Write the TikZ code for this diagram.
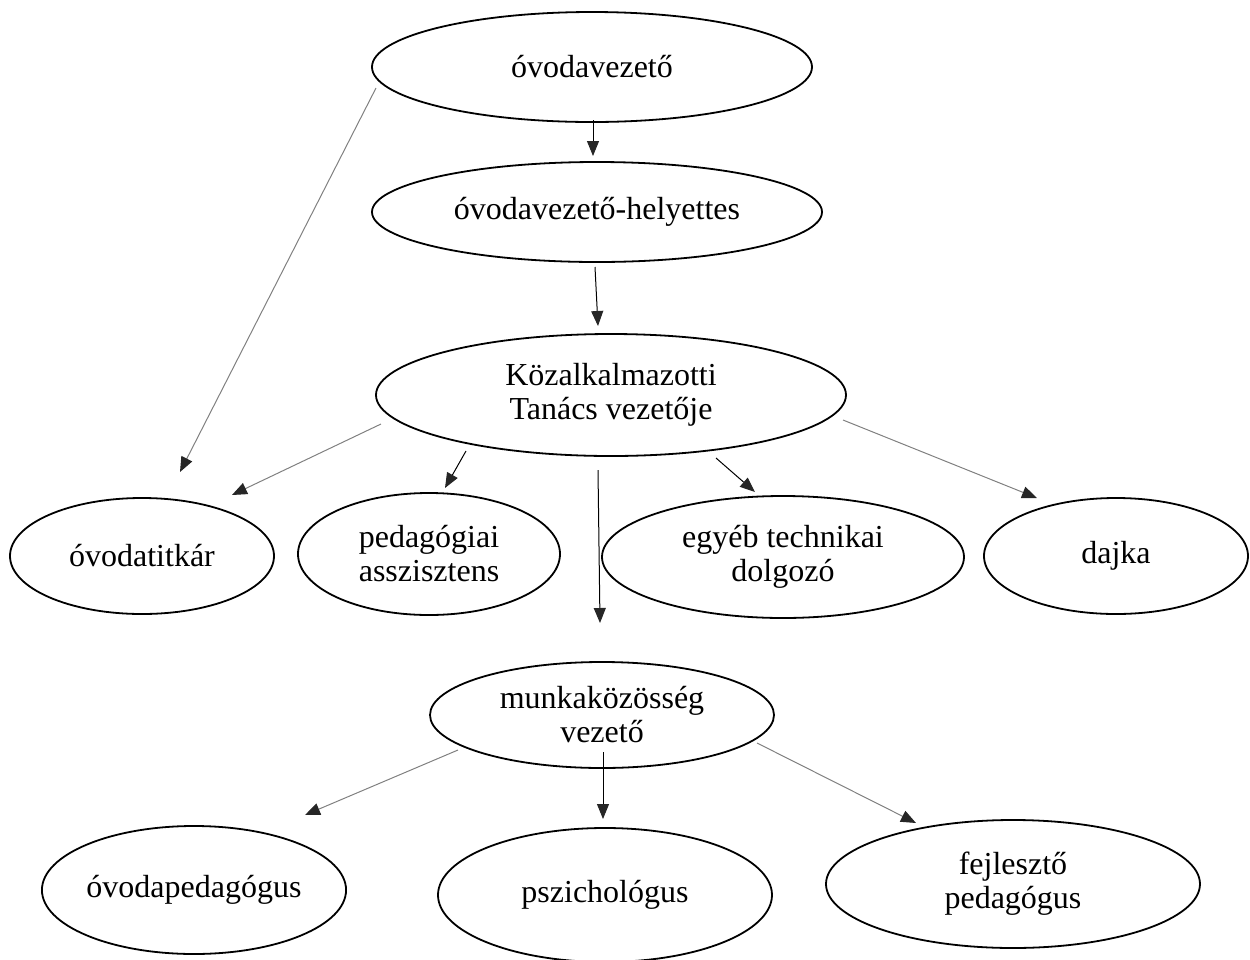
\documentclass[tikz,border=0pt]{standalone}
\usepackage{fontspec}
\setmainfont{Liberation Serif}
\usetikzlibrary{shapes.geometric,arrows.meta}
\begin{document}
\begin{tikzpicture}[x=0.5pt,y=-0.5pt,
 ell/.style={ellipse,draw,line width=0.9pt,inner sep=0pt,align=center,font=\fontsize{16}{17}\selectfont},
 arr/.style={line width=0.5pt,-{Triangle[length=7.5pt,width=6pt,color=black!85]}},
 garr/.style={arr,draw=black!50}]
\useasboundingbox (0,0) rectangle (1250,960);
\node[ell,minimum width=220pt,minimum height=55pt] (vez) at (592,67) {óvodavezető};
\node[ell,minimum width=225pt,minimum height=50pt] (hely) at (597,212) {óvodavezető-helyettes};
\node[ell,minimum width=235pt,minimum height=61pt] (kt) at (611,395) {Közalkalmazotti\\Tanács vezetője};
\node[ell,minimum width=132pt,minimum height=58pt] (tit) at (142,556) {óvodatitkár};
\node[ell,minimum width=131pt,minimum height=61pt] (asz) at (429,554) {pedagógiai\\asszisztens};
\node[ell,minimum width=181pt,minimum height=61pt] (tech) at (783,557) {egyéb technikai\\dolgozó};
\node[ell,minimum width=132pt,minimum height=58pt] (dajka) at (1116,556) {dajka};
\node[ell,minimum width=172pt,minimum height=53pt] (mk) at (602,715) {munkaközösség\\vezető};
\node[ell,minimum width=149pt,minimum height=64pt] (ovp) at (194,890) {óvodapedagógus};
\node[ell,minimum width=167pt,minimum height=67pt] (psz) at (605,895) {pszichológus};
\node[ell,minimum width=187pt,minimum height=64pt] (fej) at (1013,884) {fejlesztő\\pedagógus};
% connector end points
\coordinate (a1) at (593,120); \coordinate (b1) at (593,156);
\coordinate (a2) at (376,88);  \coordinate (b2) at (180,472);
\coordinate (a3) at (595,267); \coordinate (b3) at (598,326);
\coordinate (a4) at (381,424); \coordinate (b4) at (232,495);
\coordinate (a5) at (466,451); \coordinate (b5) at (445,488);
\coordinate (a6) at (598,470); \coordinate (b6) at (600,623);
\coordinate (a7) at (716,458); \coordinate (b7) at (755,492);
\coordinate (a8) at (843,420); \coordinate (b8) at (1037,498);
\coordinate (a9) at (458,750); \coordinate (b9) at (305,815);
\coordinate (a10) at (603,752); \coordinate (b10) at (603,819);
\coordinate (a11) at (757,743); \coordinate (b11) at (916,823);
\draw[arr] (a1) -- (b1);
\draw[garr] (a2) -- (b2);
\draw[arr] (a3) -- (b3);
\draw[garr] (a4) -- (b4);
\draw[arr] (a5) -- (b5);
\draw[arr] (a6) -- (b6);
\draw[arr] (a7) -- (b7);
\draw[garr] (a8) -- (b8);
\draw[garr] (a9) -- (b9);
\draw[arr] (a10) -- (b10);
\draw[garr] (a11) -- (b11);
\end{tikzpicture}
\end{document}
